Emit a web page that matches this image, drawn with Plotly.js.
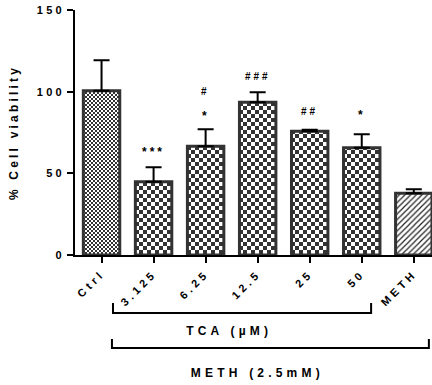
<!DOCTYPE html>
<html>
<head>
<meta charset="utf-8">
<script src="https://cdn.plot.ly/plotly-3.0.1.min.js"></script>
<style>
html,body{margin:0;padding:0;background:#fff;}
#chart{width:432px;height:385px;}
.xtick text{letter-spacing:3.6px;}
.ytick text{letter-spacing:3.2px;}
.ytitle{letter-spacing:3.2px;}
.annotation-text{letter-spacing:3px;}
.grp .annotation-text{letter-spacing:4.2px;}
</style>
</head>
<body>
<div id="chart"></div>
<script>
// ---- data ----
var categories = ["Ctrl", "3.125", "6.25", "12.5", "25", "50", "METH"];
var viability = [100.5, 44.8, 66.6, 93.5, 75.8, 65.6, 37.8];
var errorUp = [18.7, 8.9, 10.4, 6.1, 0.9, 8.3, 2.5];
var starLabels = ["", "***", "*", "", "", "*", ""];
var hashLabels = ["", "", "#", "###", "##", "", ""];
var starY = [null, 63, 85, null, null, 86, null];
var hashY = [null, null, 100, 109, 88, null, null];
var yTicks = [0, 50, 100, 150];
var groupLabels = ["TCA (µM)", "METH (2.5mM)"];

var FONT = "Liberation Sans, Arial, sans-serif";
var dark = "#333333";

var trace = {
  type: "bar",
  x: categories,
  y: viability,
  width: 0.7,
  marker: {
    color: "#ffffff",
    line: {color: dark, width: 3},
    pattern: {shape: ["x","x","x","x","x","x","/"], fgcolor: "#222", bgcolor: "#ffffff", size: 4, solidity: 0.3}
  },
  error_y: {type: "data", symmetric: false, array: errorUp, arrayminus: errorUp.map(function(){return 0;}),
            color: "#000", thickness: 2, width: 8},
  hoverinfo: "none"
};

var annotations = [];
categories.forEach(function(c, i){
  if (starLabels[i]) annotations.push({x: i, y: starY[i], xref: "x", yref: "y", text: starLabels[i], showarrow: false,
    font: {family: FONT, size: 12, color: "#000", weight: "bold"}});
  if (hashLabels[i]) annotations.push({x: i, y: hashY[i], xref: "x", yref: "y", text: hashLabels[i], showarrow: false,
    font: {family: FONT, size: 10, color: "#000", weight: "bold"}});
});
var nSig = annotations.length;
annotations.push({x: 2.45, y: -0.31, xref: "x", yref: "paper", yanchor: "middle", text: groupLabels[0], showarrow: false,
  font: {family: FONT, size: 12, color: "#000", weight: "bold"}});
annotations.push({x: 3.0, y: -0.48, xref: "x", yref: "paper", yanchor: "middle", text: groupLabels[1], showarrow: false,
  font: {family: FONT, size: 12, color: "#000", weight: "bold"}});

var shapes = [
  // TCA bracket
  {type: "path", xref: "x", yref: "paper", path: "M 0.22,-0.196 L 0.22,-0.237 L 5.18,-0.237 L 5.18,-0.196",
   line: {color: "#000", width: 2}},
  // METH bracket
  {type: "path", xref: "x", yref: "paper", path: "M 0.2,-0.343 L 0.2,-0.38 L 6.29,-0.38 L 6.29,-0.343",
   line: {color: "#000", width: 2}}
];

var layout = {
  width: 432, height: 385,
  margin: {l: 75, r: 0, t: 10, b: 130},
  paper_bgcolor: "#fff", plot_bgcolor: "#fff",
  showlegend: false,
  font: {family: FONT, color: "#000"},
  xaxis: {
    type: "category", range: [-0.51, 6.35],
    showline: true, linecolor: "#000", linewidth: 2,
    ticks: "outside", ticklen: 6, tickwidth: 2, tickcolor: "#000",
    tickangle: -45, tickfont: {family: FONT, size: 11, weight: "bold", color: "#000"},
    showgrid: false, zeroline: false, fixedrange: true
  },
  yaxis: {
    range: [0, 150], tickvals: yTicks, ticktext: yTicks.map(String),
    showline: true, linecolor: "#000", linewidth: 2,
    ticks: "outside", ticklen: 6, tickwidth: 2, tickcolor: "#000",
    tickfont: {family: FONT, size: 11, weight: "bold", color: "#000"},
    title: {text: "% Cell viability", font: {family: FONT, size: 12, weight: "bold", color: "#000"}, standoff: 16},
    showgrid: false, zeroline: false, fixedrange: true
  },
  annotations: annotations,
  shapes: shapes
};

Plotly.newPlot("chart", [trace], layout, {staticPlot: true, displayModeBar: false}).then(function(gd){
  var svg = gd.querySelector("svg.main-svg");
  var NS = "http://www.w3.org/2000/svg";
  var defs = svg.querySelector("defs") || svg.insertBefore(document.createElementNS(NS, "defs"), svg.firstChild);
  function makeChecker(id, s){
    var p = document.createElementNS(NS, "pattern");
    p.setAttribute("id", id); p.setAttribute("patternUnits", "userSpaceOnUse");
    p.setAttribute("width", 2*s); p.setAttribute("height", 2*s);
    [[0,0,2*s,2*s,"#fff"],[0,0,s,s,dark],[s,s,s,s,dark]].forEach(function(r){
      var e = document.createElementNS(NS, "rect");
      e.setAttribute("x", r[0]); e.setAttribute("y", r[1]); e.setAttribute("width", r[2]); e.setAttribute("height", r[3]);
      e.setAttribute("fill", r[4]); p.appendChild(e);
    });
    defs.appendChild(p);
  }
  makeChecker("chkSmall", 2);
  makeChecker("chkLarge", 4);
  gd.querySelectorAll(".barlayer .point path").forEach(function(p, i){
    if (i === 0) p.style.fill = "url(#chkSmall)";
    else if (i < 6) p.style.fill = "url(#chkLarge)";
  });
  var ann = gd.querySelectorAll(".annotation");
  for (var k = nSig; k < ann.length; k++) ann[k].classList.add("grp");
});
</script>
</body>
</html>
